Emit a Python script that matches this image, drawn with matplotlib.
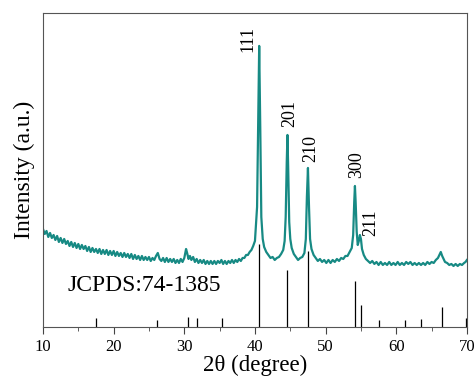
import numpy as np
import matplotlib.pyplot as plt

plt.rcParams['font.family'] = ['Liberation Serif', 'DejaVu Serif']

two_theta = [10.00, 10.25, 10.50, 10.75, 11.00, 11.25, 11.50, 11.75, 12.00, 12.25,
             12.50, 12.75, 13.00, 13.25, 13.50, 13.75, 14.00, 14.25, 14.50, 14.75,
             15.00, 15.25, 15.50, 15.75, 16.00, 16.25, 16.50, 16.75, 17.00, 17.25,
             17.50, 17.75, 18.00, 18.25, 18.50, 18.75, 19.00, 19.25, 19.50, 19.75,
             20.00, 20.25, 20.50, 20.75, 21.00, 21.25, 21.50, 21.75, 22.00, 22.25,
             22.50, 22.75, 23.00, 23.25, 23.50, 23.75, 24.00, 24.25, 24.50, 24.75,
             25.00, 25.25, 25.50, 25.75, 26.00, 26.25, 26.50, 26.75, 27.00, 27.25,
             27.50, 27.75, 28.00, 28.25, 28.50, 28.75, 29.00, 29.25, 29.50, 29.75,
             30.00, 30.25, 30.40, 30.60, 30.80, 31.00, 31.25, 31.50, 31.75, 32.00,
             32.25, 32.50, 32.75, 33.00, 33.25, 33.50, 33.75, 34.00, 34.25, 34.50,
             34.75, 35.00, 35.25, 35.50, 35.75, 36.00, 36.25, 36.50, 36.75, 37.00,
             37.25, 37.50, 37.75, 38.00, 38.25, 38.50, 38.75, 39.00, 39.25, 39.50,
             39.75, 40.00, 40.30, 40.45, 40.60, 40.75, 40.90, 41.10, 41.30, 41.60,
             41.90, 42.20, 42.50, 42.80, 43.10, 43.40, 43.70, 44.00, 44.20, 44.35,
             44.50, 44.60, 44.70, 44.85, 45.00, 45.20, 45.50, 45.80, 46.10, 46.40,
             46.70, 47.00, 47.20, 47.35, 47.50, 47.65, 47.80, 48.00, 48.30, 48.60,
             48.90, 49.20, 49.50, 49.80, 50.10, 50.40, 50.70, 51.00, 51.30, 51.60,
             51.90, 52.20, 52.50, 52.80, 53.10, 53.40, 53.70, 53.90, 54.05, 54.15,
             54.25, 54.40, 54.55, 54.70, 54.85, 55.00, 55.15, 55.40, 55.70, 56.00,
             56.30, 56.60, 56.90, 57.20, 57.50, 57.80, 58.10, 58.40, 58.70, 59.00,
             59.30, 59.60, 59.90, 60.20, 60.50, 60.80, 61.10, 61.40, 61.70, 62.00,
             62.30, 62.60, 62.90, 63.20, 63.50, 63.80, 64.10, 64.40, 64.70, 65.00,
             65.30, 65.60, 65.90, 66.10, 66.30, 66.50, 66.70, 66.90, 67.20, 67.50,
             67.80, 68.10, 68.40, 68.70, 69.00, 69.30, 69.60, 69.80, 70.00]
intensity = [98, 93, 96, 90, 94, 89, 92, 87, 91, 85,
             89, 84, 88, 83, 86, 81, 85, 80, 84, 79,
             83, 78, 82, 78, 81, 76, 80, 75, 79, 75,
             78, 74, 78, 73, 77, 73, 77, 72, 76, 72,
             76, 71, 75, 71, 74, 70, 74, 70, 73, 69,
             73, 68, 72, 68, 71, 67, 71, 67, 70, 67,
             70, 66, 69, 67, 71, 74, 68, 66, 69, 65,
             69, 65, 68, 65, 68, 64, 67, 64, 68, 65,
             69, 78, 74, 68, 71, 67, 70, 65, 68, 64,
             67, 64, 67, 63, 66, 63, 66, 63, 66, 63,
             66, 64, 67, 63, 66, 63, 66, 64, 67, 64,
             67, 65, 68, 66, 69, 69, 72, 72, 75, 77,
             81, 86, 120, 200, 281, 200, 110, 88, 80, 75,
             72, 69, 70, 67, 69, 70, 73, 77, 86, 110,
             165, 192, 160, 105, 88, 79, 73, 70, 67, 69,
             70, 74, 88, 130, 159, 120, 88, 78, 72, 69,
             66, 68, 65, 67, 64, 67, 64, 67, 65, 68,
             66, 69, 68, 71, 71, 75, 79, 92, 125, 141,
             125, 95, 82, 86, 92, 88, 78, 72, 68, 66,
             64, 66, 63, 65, 62, 65, 62, 64, 62, 65,
             62, 64, 62, 65, 62, 64, 62, 65, 63, 65,
             62, 64, 62, 64, 62, 64, 62, 65, 63, 65,
             64, 67, 69, 72, 75, 71, 68, 65, 64, 62,
             63, 61, 63, 61, 63, 62, 64, 65, 67]

# JCPDS 74-1385 reference lines
ref_pos = [17.5, 26.2, 30.5, 31.8, 35.3, 40.6, 44.6, 47.5, 54.2, 55.0,
           57.6, 61.3, 63.5, 66.5, 69.9]
ref_int = [9, 7, 10, 9, 9, 83, 57, 76, 46, 22, 7, 7, 8, 20, 9]

peak_labels = ['111', '201', '210', '300', '211']
label_x = [39.0, 44.95, 47.9, 54.4, 56.4]
label_y = [288, 213, 178, 162, 104]

fig = plt.figure(figsize=(4.75, 3.8), dpi=100)
ax = fig.add_axes([0.0905, 0.1395, 0.8925, 0.8265])

ax.plot(two_theta, intensity, color='#178a84', lw=1.6)
ax.vlines(ref_pos, 0, ref_int, color='black', lw=0.9)

for lab, lx, ly in zip(peak_labels, label_x, label_y):
    ax.text(lx, ly, lab, rotation=90, ha='center', va='center', fontsize=13)

ax.text(13.5, 41, 'JCPDS:74-1385', ha='left', va='center', fontsize=17)

ax.set_xlim(10, 70)
ax.set_ylim(0, 314)
ax.set_xticks(np.arange(10, 71, 10))
ax.set_xticks(np.arange(15, 70, 10), minor=True)
ax.set_yticks([])
ax.tick_params(axis='x', which='major', direction='out', length=5, labelsize=12, color='#444444')
ax.tick_params(axis='x', which='minor', direction='out', length=3, color='#444444')
for s in ax.spines.values():
    s.set_color('#555555')

ax.set_xlabel('2θ (degree)', fontsize=16.5, labelpad=0)
ax.set_ylabel('Intensity (a.u.)', fontsize=17, labelpad=6)

fig.savefig('out.png', dpi=100)
